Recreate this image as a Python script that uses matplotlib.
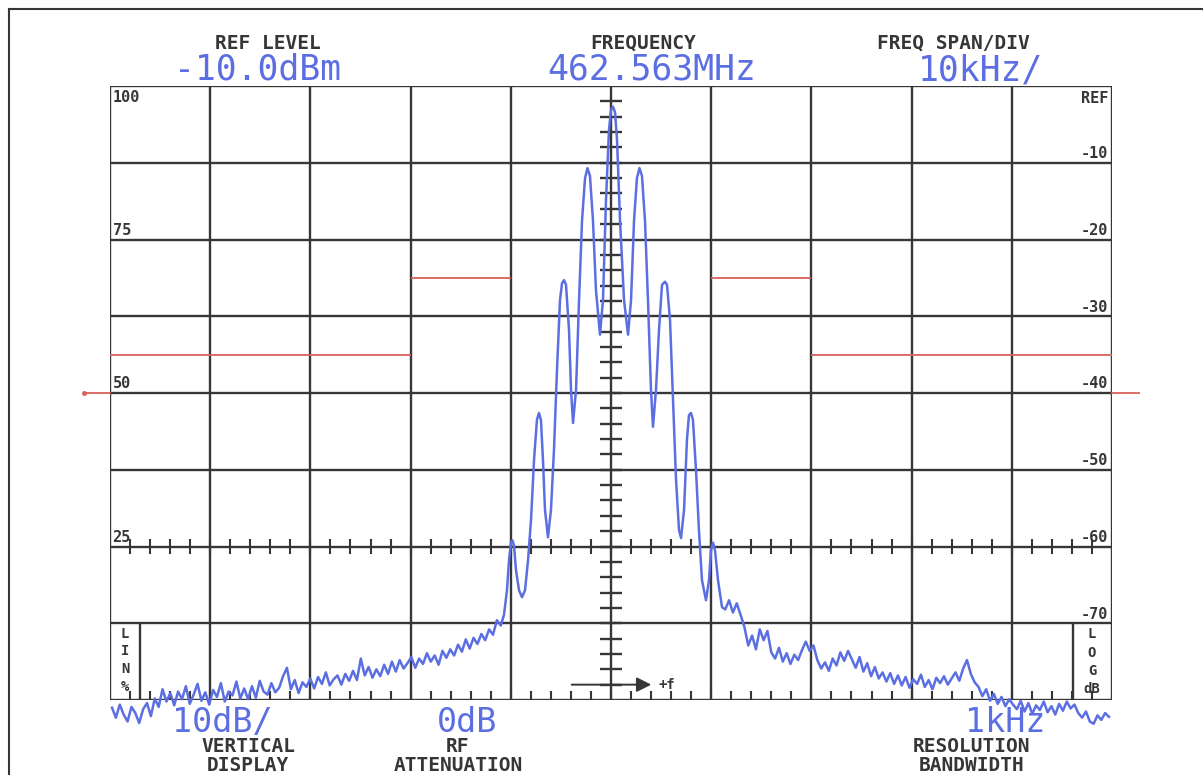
import numpy as np
import matplotlib
matplotlib.use("Agg")
import matplotlib.pyplot as plt
from matplotlib.lines import Line2D

# Spectrum trace: offset from 462.563 MHz (kHz) and level (dB below REF)
left_skirt_db = [-81.0, -82.3, -80.6, -81.9, -82.8, -80.9, -81.7, -83.0, -81.2, -80.4,
                 -82.1, -79.8, -80.9, -78.6, -80.2, -79.1, -80.7, -78.9,
                 -79.9, -78.2, -80.5, -79.3, -77.9, -80.1, -79.0, -80.6,
                 -78.7, -79.6, -77.8, -80.2, -78.9, -79.4, -77.6, -79.8, -78.5, -79.9,
                 -78.2, -79.7, -77.5, -78.9, -79.3, -77.8, -79.0, -78.4,
                 -76.9, -75.8, -78.6, -77.4, -79.1, -77.7, -78.3, -77.2,
                 -78.5, -77.0, -77.9, -76.4, -78.1, -77.3, -76.8, -78.0, -76.6, -77.5,
                 -76.2, -77.4, -74.6, -76.8, -75.7, -77.1, -76.0, -76.9,
                 -75.4, -76.6, -75.0, -76.3, -74.8, -75.9, -75.2, -74.4,
                 -75.8, -74.6, -75.3, -73.9, -75.0, -74.2, -75.4, -73.6, -74.5,
                 -73.4, -74.2, -72.8, -73.7, -72.1, -73.3, -71.9, -72.7, -71.4,
                 -72.2, -70.8, -71.5, -69.6, -70.3]
left_skirt_khz = np.linspace(-49.8, -11.0, len(left_skirt_db))

center_khz = [-10.68, -10.38, -10.18, -9.98, -9.83, -9.68, -9.48, -9.18, -8.88, -8.58,
              -8.28, -7.98, -7.68, -7.39, -7.19, -6.99, -6.79, -6.59, -6.29, -5.99,
              -5.69, -5.39, -5.09, -4.89, -4.69, -4.49, -4.19, -3.99, -3.79, -3.49,
              -3.19, -2.89, -2.59, -2.35, -2.10, -1.80, -1.50, -1.10, -0.80, -0.50,
              -0.20, 0.00, 0.20, 0.40, 0.60, 0.90, 1.30, 1.70, 2.00, 2.30,
              2.59, 2.84, 3.09, 3.39, 3.69, 3.99, 4.19, 4.49, 4.79, 5.09,
              5.39, 5.59, 5.89, 6.19, 6.49, 6.79, 6.99, 7.29, 7.58, 7.78,
              7.98, 8.18, 8.48, 8.78, 9.08, 9.48, 9.78, 9.98, 10.18, 10.38,
              10.68, 11.08]
center_db = [-68.9, -65.7, -61.8, -59.5, -59.2, -59.9, -63.1, -65.7, -66.6, -65.7,
             -61.8, -56.5, -48.7, -43.5, -42.6, -43.5, -48.7, -55.2, -58.8, -55.2,
             -47.4, -37.0, -27.9, -25.7, -25.3, -25.9, -31.8, -39.6, -43.9, -39.6,
             -27.9, -17.5, -12.0, -10.7, -11.7, -17.5, -26.6, -32.4, -27.9, -14.9,
             -5.7, -3.1, -2.7, -3.4, -7.0, -17.5, -27.9, -32.4, -27.9, -17.5,
             -12.0, -10.7, -11.7, -17.5, -27.9, -39.6, -44.4, -39.6, -31.8, -25.9,
             -25.5, -25.9, -30.5, -40.9, -51.3, -57.9, -58.9, -55.2, -46.1, -42.9,
             -42.6, -43.5, -50.0, -57.9, -64.4, -67.0, -64.4, -60.5, -59.5, -60.5,
             -64.4, -67.9]

right_skirt_db = [-68.2, -67.0, -68.6, -67.4, -68.9,
                  -70.5, -72.9, -71.6, -73.4,
                  -70.8, -72.2, -71.0, -73.8, -74.6,
                  -73.2, -75.0, -73.9, -75.3, -74.1, -74.8, -73.5,
                  -72.4, -73.6, -72.9, -74.8, -75.9,
                  -75.1, -76.2, -74.6, -75.5, -73.8, -74.9, -73.6, -74.7,
                  -75.8, -74.4, -76.3, -75.2, -76.9, -75.7, -77.2, -76.4,
                  -77.6, -76.5, -77.9, -76.8, -78.1, -77.0, -78.4, -77.3,
                  -77.9, -76.7, -78.3, -77.4, -78.6, -77.1, -77.8, -76.9, -78.0,
                  -77.2, -76.4, -77.5, -75.9, -74.8, -76.6, -77.7,
                  -78.3, -79.5, -78.6, -80.1, -79.2, -80.5, -79.6, -80.8, -79.9, -80.6,
                  -81.2, -80.1, -81.5, -80.4, -81.8, -80.7, -81.3, -80.2, -81.6,
                  -80.8, -81.9, -80.5, -81.4, -80.2, -81.1, -80.6, -81.7,
                  -82.3, -81.5, -82.8, -83.1, -82.0, -82.6, -81.7, -82.2]
right_skirt_khz = np.linspace(11.4, 49.7, len(right_skirt_db))

# emission mask segments (kHz from, kHz to, dB)
mask_from = [-50, -20, 10, 20]
mask_to = [-20, -10, 20, 50]
mask_db = [-35, -25, -25, -35]
marker_db = -40

lin_labels = ["100", "75", "50", "25"]
lin_db = [0, -20, -40, -60]
log_labels = ["REF", "-10", "-20", "-30", "-40", "-50", "-60", "-70"]
log_db = [0, -10, -20, -30, -40, -50, -60, -70]

W, H = 1203, 775
BLUE = "#5b6fe2"
GRID = "#363636"
RED = "#d9605a"
MONO = "DejaVu Sans Mono"


def fx(px):
    return px / W


def fy(py):
    return 1 - py / H


fig = plt.figure(figsize=(W / 100, H / 100), dpi=100)
fig.patch.set_facecolor("white")
ax = fig.add_axes([fx(110), fy(700), (1112 - 110) / W, (700 - 86) / H])
ax.set_xlim(-50, 50)
ax.set_ylim(-80, 0)
ax.axis("off")

# graticule
ax.vlines(np.arange(-50, 51, 10), -80, 0, color=GRID, lw=1.7, zorder=1)
ax.hlines(np.arange(-80, 1, 10), -50, 50, color=GRID, lw=1.7, zorder=1)
# minor ticks on centre line, -60 line and bottom edge
ax.hlines(np.arange(-78, 0, 2), -1.1, 1.1, color=GRID, lw=1.7, zorder=1)
ax.vlines(np.arange(-48, 49, 2), -61.0, -59.0, color=GRID, lw=1.5, zorder=1)
ax.vlines(np.arange(-48, 49, 2), -80, -78.8, color=GRID, lw=1.5, zorder=1)

# LIN % / LOG dB boxes
ax.vlines([-47.0, 46.1], -80, -70, color=GRID, lw=1.7, zorder=1)

# mask lines
ax.hlines(mask_db, mask_from, mask_to, color=RED, lw=1.3, zorder=2)
ax.plot([-52.6, -50], [marker_db, marker_db], color=RED, lw=1.3, clip_on=False)
ax.plot([-52.6], [marker_db], "o", color=RED, ms=2.5, clip_on=False)
ax.plot([50, 52.7], [marker_db, marker_db], color=RED, lw=1.3, clip_on=False)

# trace
trace_khz = np.concatenate([left_skirt_khz, center_khz, right_skirt_khz])
trace_db = np.concatenate([left_skirt_db, center_db, right_skirt_db])
ax.plot(trace_khz, trace_db, color=BLUE, lw=1.8, clip_on=False, zorder=3)

# +f arrow
ax.annotate("", xy=(4.3, -78.0), xytext=(-4.2, -78.0),
            arrowprops=dict(arrowstyle="-|>", color=GRID, lw=1.4,
                            mutation_scale=22), zorder=2)
ax.text(4.7, -78.0, "+f", fontsize=10, fontweight="bold", color=GRID,
        family=MONO, va="center", ha="left")

# scale labels inside graticule
for lab, d in zip(lin_labels, lin_db):
    ax.text(-49.75, d - (0.5 if d == 0 else -0.2), lab, fontsize=11,
            fontweight="bold", color=GRID, family=MONO, ha="left",
            va="top" if d == 0 else "bottom")
for lab, d in zip(log_labels, log_db):
    ax.text(49.6, d - (0.7 if d == 0 else -0.2), lab, fontsize=11,
            fontweight="bold", color=GRID, family=MONO, ha="right",
            va="top" if d == 0 else "bottom")

for ch, py in zip(["L", "I", "N", "%"], [634, 651, 669, 687]):
    fig.text(fx(125), fy(py), ch, fontsize=10, fontweight="bold", color=GRID,
             family=MONO, ha="center", va="center")
for ch, py in zip(["L", "O", "G", "dB"], [634, 653, 671, 689]):
    fig.text(fx(1092), fy(py), ch, fontsize=10, fontweight="bold", color=GRID,
             family=MONO, ha="center", va="center")

# header / footer annotations
heads = [("REF LEVEL", 268, "-10.0dBm", 258),
         ("FREQUENCY", 643, "462.563MHz", 652),
         ("FREQ SPAN/DIV", 953, "10kHz/", 980)]
for lab, lx, val, vx in heads:
    fig.text(fx(lx), fy(49), lab, fontsize=14, fontweight="bold", color=GRID,
             family=MONO, ha="center", va="baseline")
    fig.text(fx(vx), fy(80), val, fontsize=25, color=BLUE, family=MONO,
             ha="center", va="baseline")

foots = [("10dB/", 222, ["VERTICAL", "DISPLAY"], 248),
         ("0dB", 467, ["RF", "ATTENUATION"], 458),
         ("1kHz", 1005, ["RESOLUTION", "BANDWIDTH"], 972)]
for val, vx, labs, lx in foots:
    fig.text(fx(vx), fy(732), val, fontsize=24, color=BLUE, family=MONO,
             ha="center", va="baseline", zorder=1)
    for lab, py in zip(labs, [752, 771]):
        fig.text(fx(lx), fy(py), lab, fontsize=14, fontweight="bold",
                 color=GRID, family=MONO, ha="center", va="baseline")

# outer frame
fig.add_artist(Line2D([fx(9), 1], [fy(9), fy(9)], color=GRID, lw=1.5))
fig.add_artist(Line2D([fx(9), fx(9)], [fy(9), 0], color=GRID, lw=1.5))

fig.savefig("out.png", dpi=100)
